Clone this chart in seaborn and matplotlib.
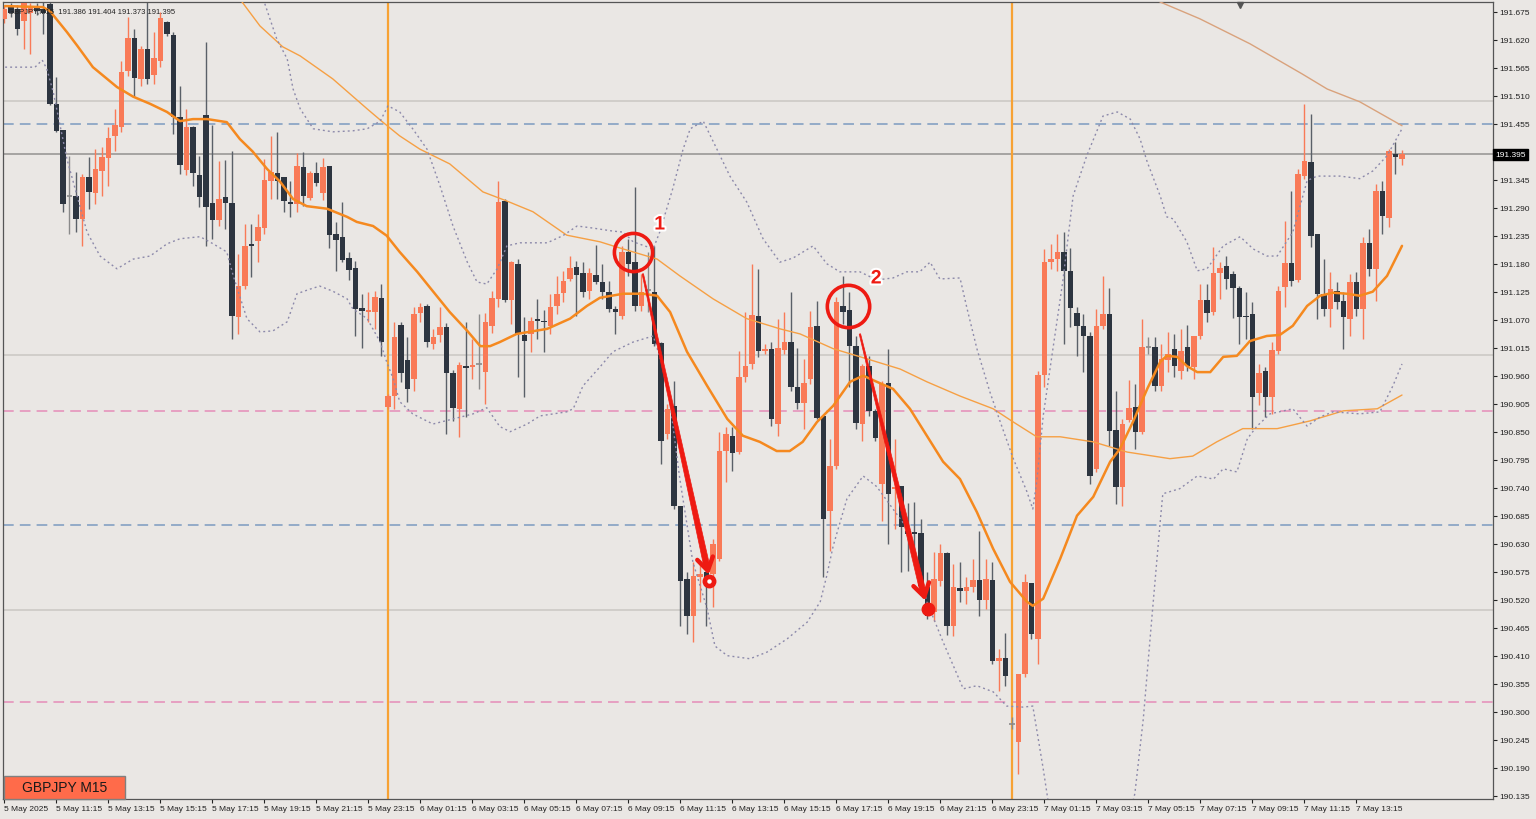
import numpy as np
import pandas as pd
import matplotlib
matplotlib.use("Agg")
import matplotlib.pyplot as plt
import seaborn as sns
from matplotlib.patches import Rectangle, Polygon
from matplotlib.lines import Line2D
from matplotlib.transforms import IdentityTransform, blended_transform_factory
import matplotlib.patheffects as pe

# ---------------- data (GBPJPY M15 candles, bar index 0 = 5 May 09:15) ----------------
opens = [191.661,191.684,191.680,191.657,191.672,191.684,191.680,191.690,191.494,191.443,
191.314,191.313,191.268,191.350,191.319,191.362,191.388,191.431,191.449,191.559,
191.623,191.543,191.602,191.551,191.578,191.655,191.629,191.468,191.364,191.449,
191.354,191.472,191.299,191.266,191.311,191.299,191.075,191.136,191.219,191.225,
191.250,191.343,191.358,191.350,191.301,191.297,191.370,191.309,191.358,191.319,
191.372,191.238,191.233,191.191,191.172,191.093,191.085,191.085,191.113,190.899,
190.920,191.060,190.991,190.954,191.083,191.097,191.022,191.040,191.056,190.965,
190.895,190.979,190.977,190.984,190.967,191.058,191.111,191.303,191.109,191.179,
191.040,191.042,191.072,191.068,191.058,191.097,191.123,191.150,191.174,191.162,
191.127,191.158,191.144,191.125,191.091,191.077,191.203,191.183,191.097,191.129,
191.125,191.024,190.846,190.901,190.704,190.561,190.488,190.565,190.575,190.571,
190.600,190.812,190.842,190.810,190.958,190.983,191.077,191.009,191.013,190.865,
191.011,191.026,190.938,190.907,190.954,191.058,190.881,190.694,190.783,191.097,
191.089,191.019,190.865,190.979,190.891,190.747,190.946,190.738,190.744,190.655,
190.653,190.651,190.545,190.496,190.557,190.612,190.469,190.543,190.537,190.545,
190.559,190.520,190.559,190.400,190.406,190.277,190.241,190.374,190.553,190.443,
190.961,191.183,191.189,191.203,191.166,191.083,191.058,191.038,190.777,191.058,
191.081,190.854,190.742,190.873,190.899,190.850,191.018,191.017,190.940,190.991,
191.013,190.969,191.017,190.977,191.038,191.109,191.085,191.162,191.176,191.160,
191.132,191.077,191.081,190.926,190.969,190.918,191.009,191.134,191.181,191.148,
191.352,191.380,191.238,191.121,191.091,191.126,191.107,191.072,191.144,191.091,
191.221,191.170,191.323,191.270,191.396,191.386]

highs = [191.688,191.692,191.688,191.694,191.692,191.692,191.696,191.694,191.547,191.443,
191.392,191.360,191.356,191.390,191.405,191.409,191.449,191.484,191.578,191.665,
191.641,191.608,191.698,191.635,191.674,191.657,191.635,191.529,191.484,191.451,
191.392,191.616,191.453,191.382,191.384,191.401,191.199,191.258,191.258,191.278,
191.386,191.431,191.439,191.350,191.343,191.398,191.399,191.362,191.380,191.388,
191.372,191.262,191.301,191.203,191.185,191.121,191.125,191.127,191.140,190.924,
191.066,191.066,191.036,191.095,191.103,191.101,191.052,191.095,191.064,190.971,
190.987,191.066,191.032,191.081,191.083,191.126,191.343,191.307,191.185,191.189,
191.075,191.075,191.111,191.089,191.121,191.156,191.166,191.195,191.185,191.183,
191.172,191.217,191.180,191.146,191.097,191.215,191.229,191.331,191.160,191.203,
191.215,191.026,190.905,190.950,190.704,190.575,190.594,190.594,190.580,190.639,
190.850,190.859,190.859,191.009,191.085,191.180,191.170,191.022,191.026,191.072,
191.085,191.125,191.015,190.993,191.087,191.107,190.881,190.836,191.115,191.156,
191.125,191.038,190.983,190.999,190.895,190.950,191.013,190.836,190.744,190.710,
190.712,190.679,190.575,190.614,190.630,190.614,190.590,190.594,190.565,190.600,
190.655,190.600,190.594,190.423,190.455,190.290,190.374,190.571,190.553,190.969,
191.209,191.219,191.238,191.242,191.211,191.095,191.081,191.046,191.091,191.156,
191.132,190.930,190.875,190.952,190.944,191.072,191.036,191.036,191.022,191.046,
191.042,191.052,191.060,191.038,191.140,191.140,191.213,191.183,191.195,191.166,
191.136,191.125,191.105,190.983,190.977,191.026,191.136,191.264,191.323,191.366,
191.494,191.474,191.238,191.189,191.164,191.144,191.125,191.160,191.164,191.233,
191.248,191.337,191.343,191.405,191.419,191.404]

lows = [191.653,191.665,191.629,191.602,191.592,191.669,191.631,191.492,191.439,191.282,
191.238,191.242,191.215,191.288,191.297,191.313,191.333,191.401,191.439,191.549,
191.508,191.529,191.533,191.533,191.566,191.627,191.435,191.356,191.354,191.333,
191.291,191.215,191.229,191.254,191.248,191.032,191.042,191.130,191.154,191.183,
191.238,191.307,191.307,191.282,191.272,191.282,191.293,191.305,191.333,191.305,
191.211,191.166,191.183,191.148,191.038,191.015,191.066,191.052,190.999,190.895,
190.895,190.948,190.909,190.930,191.066,191.017,191.013,191.026,190.846,190.871,
190.840,190.879,190.954,190.934,190.905,191.044,191.095,191.105,191.062,190.958,
190.918,191.007,191.032,191.007,191.042,191.081,191.105,191.146,191.077,191.115,
191.111,191.140,191.111,191.085,191.042,191.072,191.156,191.087,191.087,191.085,
191.019,190.787,190.836,190.698,190.469,190.453,190.437,190.516,190.469,190.506,
190.596,190.751,190.773,190.806,190.948,190.973,190.997,191.003,190.862,190.842,
191.003,190.930,190.895,190.856,190.944,190.875,190.565,190.616,190.777,191.062,
190.938,190.856,190.832,190.881,190.832,190.675,190.630,190.659,190.575,190.577,
190.594,190.545,190.482,190.478,190.547,190.451,190.449,190.516,190.512,190.535,
190.488,190.502,190.394,190.341,190.351,190.266,190.178,190.368,190.443,190.394,
190.938,191.170,191.166,191.022,191.056,190.999,190.967,190.747,190.771,191.052,
190.822,190.708,190.704,190.869,190.816,190.846,191.003,190.930,190.930,190.967,
190.958,190.954,190.969,190.954,191.032,191.066,191.079,191.111,191.130,191.073,
191.022,191.032,190.856,190.903,190.879,190.885,191.003,191.095,191.136,191.144,
191.347,191.213,191.072,191.077,191.056,191.091,191.013,191.038,191.077,191.032,
191.156,191.107,191.238,191.252,191.356,191.373]

closes = [191.680,191.672,191.641,191.692,191.684,191.676,191.672,191.494,191.441,191.297,
191.313,191.268,191.350,191.321,191.366,191.390,191.427,191.453,191.557,191.623,
191.545,191.602,191.543,191.584,191.663,191.631,191.468,191.374,191.449,191.358,
191.311,191.291,191.266,191.307,191.299,191.077,191.136,191.215,191.215,191.252,
191.345,191.360,191.343,191.303,191.297,191.372,191.313,191.358,191.339,191.370,
191.236,191.227,191.187,191.168,191.091,191.087,191.089,191.115,191.026,190.920,
191.036,190.965,190.934,191.081,191.095,191.026,191.036,191.056,190.965,190.897,
190.981,190.975,190.981,190.983,191.066,191.113,191.301,191.109,191.183,191.042,
191.028,191.068,191.068,191.066,191.095,191.121,191.146,191.172,191.158,191.125,
191.162,191.144,191.125,191.091,191.085,191.203,191.180,191.097,191.125,191.128,
191.022,190.832,190.895,190.704,190.557,190.488,190.567,190.571,190.561,190.630,
190.812,190.846,190.808,190.958,190.979,191.079,191.009,191.013,190.875,191.015,
191.026,190.938,190.907,190.946,191.056,190.877,190.679,190.783,191.105,191.085,
191.019,190.867,190.979,190.891,190.838,190.944,190.728,190.742,190.663,190.649,
190.649,190.547,190.488,190.561,190.612,190.469,190.545,190.537,190.545,190.559,
190.520,190.561,190.400,190.406,190.370,190.276,190.374,190.555,190.453,190.961,
191.183,191.189,191.203,191.166,191.093,191.058,191.038,190.763,191.058,191.081,
190.852,190.742,190.865,190.897,190.850,191.017,191.017,190.940,190.993,191.003,
190.979,191.009,190.979,191.038,191.109,191.083,191.162,191.172,191.150,191.132,
191.075,191.075,190.918,190.965,190.918,191.011,191.127,191.181,191.146,191.356,
191.382,191.235,191.121,191.091,191.130,191.105,191.075,191.144,191.091,191.221,
191.170,191.323,191.274,191.401,191.390,191.395]

# Bollinger middle (thick orange): bar position / price
bb_mid_x = [0.1, 5.9, 7.0, 9.6, 11.2, 13.6, 17.3, 19.8, 22.4, 25.0,
 27.0, 29.0, 31.2, 34.2, 36.2, 38.2, 40.4, 42.4, 44.4, 46.5,
 49.6, 52.7, 54.2, 56.7, 58.8, 60.8, 63.5, 65.9, 68.5, 71.2,
 73.2, 74.7, 76.2, 78.8, 83.5, 87.0, 89.6, 91.6, 95.2, 98.2,
 100.4, 102.4, 105.0, 108.1, 111.2, 113.6, 116.2, 118.8, 120.8, 122.8,
 125.0, 127.5, 130.1, 132.1, 134.2, 136.7, 139.3, 141.9, 144.4, 147.0,
 149.6, 152.1, 154.7, 157.3, 158.2, 159.8, 162.4, 165.0, 167.5, 170.1,
 171.6, 173.6, 175.8, 177.8, 178.8, 180.4, 181.9, 183.5, 185.5, 187.5,
 189.6, 191.6, 194.2, 196.2, 198.2, 200.4, 202.4, 204.4, 206.5, 208.5,
 210.5, 212.7, 215.0]
bb_mid = [191.686, 191.684, 191.676, 191.635, 191.608, 191.566, 191.527, 191.508, 191.494, 191.478,
 191.460, 191.464, 191.464, 191.458, 191.425, 191.400, 191.366, 191.341, 191.307, 191.293,
 191.288, 191.272, 191.262, 191.254, 191.235, 191.203, 191.164, 191.126, 191.085, 191.048,
 191.018, 191.018, 191.026, 191.042, 191.052, 191.072, 191.097, 191.113, 191.121, 191.121,
 191.117, 191.085, 191.007, 190.940, 190.875, 190.842, 190.830, 190.812, 190.812, 190.830,
 190.869, 190.901, 190.948, 190.960, 190.948, 190.934, 190.895, 190.842, 190.791, 190.757,
 190.692, 190.620, 190.555, 190.516, 190.508, 190.522, 190.600, 190.685, 190.722, 190.791,
 190.816, 190.869, 190.934, 190.987, 190.999, 190.997, 190.979, 190.967, 190.967, 190.997,
 190.999, 191.028, 191.038, 191.040, 191.058, 191.097, 191.117, 191.123, 191.121, 191.117,
 191.125, 191.156, 191.215]

bb_up_x = [0.0, 20.0, 36.0, 39.8, 41.9, 43.5, 44.4, 45.5, 47.5, 50.5,
 53.6, 55.8, 57.8, 59.0, 60.8, 62.8, 65.0, 67.0, 69.0, 71.2,
 72.7, 74.2, 75.8, 77.3, 79.3, 83.5, 85.9, 88.1, 90.5, 93.6,
 95.2, 96.7, 99.8, 100.8, 102.8, 104.4, 105.5, 107.5, 109.6, 111.6,
 114.2, 116.7, 119.3, 121.3, 124.4, 126.5, 128.5, 131.6, 134.2, 136.7,
 138.8, 140.8, 142.4, 143.9, 147.0, 148.1, 149.6, 151.6, 153.2, 155.2,
 157.3, 158.2, 158.8, 159.8, 161.3, 162.8, 164.4, 166.5, 169.0, 171.2,
 173.2, 174.7, 175.8, 177.8, 178.8, 179.8, 181.9, 183.5, 185.0, 187.5,
 190.1, 192.1, 194.2, 195.8, 198.2, 200.4, 201.9, 205.5, 208.5, 210.5,
 212.7, 215.0]
bb_up = [191.780, 191.770, 191.730, 191.700, 191.621, 191.582, 191.523, 191.484, 191.445, 191.439,
 191.441, 191.445, 191.460, 191.490, 191.478, 191.445, 191.405, 191.333, 191.254, 191.183,
 191.144, 191.140, 191.170, 191.215, 191.221, 191.221, 191.235, 191.254, 191.250, 191.244,
 191.242, 191.223, 191.209, 191.242, 191.327, 191.405, 191.445, 191.460, 191.405, 191.352,
 191.301, 191.229, 191.183, 191.191, 191.215, 191.180, 191.164, 191.164, 191.148, 191.152,
 191.164, 191.164, 191.183, 191.150, 191.152, 191.091, 191.013, 190.928, 190.869, 190.797,
 190.732, 190.698, 190.751, 190.881, 191.013, 191.144, 191.313, 191.392, 191.470, 191.478,
 191.464, 191.425, 191.380, 191.313, 191.272, 191.268, 191.223, 191.166, 191.170, 191.215,
 191.233, 191.209, 191.195, 191.195, 191.242, 191.343, 191.352, 191.352, 191.347, 191.362,
 191.392, 191.445]

bb_lo_x = [0.1, 4.7, 5.8, 6.5, 7.5, 9.6, 12.7, 14.7, 17.3, 19.8,
 22.4, 25.0, 27.0, 30.1, 32.1, 34.2, 35.2, 37.3, 39.3, 41.3,
 43.5, 45.0, 47.0, 48.5, 50.5, 52.7, 53.6, 55.8, 57.8, 58.8,
 59.8, 60.8, 62.8, 65.9, 69.0, 72.1, 74.2, 76.2, 77.8, 80.4,
 82.4, 86.5, 87.5, 89.0, 91.6, 93.6, 96.7, 99.8, 101.9, 103.9,
 105.9, 108.1, 109.3, 111.2, 114.7, 117.3, 120.4, 123.5, 125.5, 126.5,
 127.5, 129.6, 132.1, 134.2, 136.7, 139.3, 141.9, 144.4, 147.5, 149.6,
 152.1, 154.2, 156.7, 158.2, 159.8, 160.5, 163.0, 167.0, 171.0, 173.9,
 175.2, 176.5, 177.8, 178.2, 180.8, 183.5, 186.0, 187.5, 189.6, 191.2,
 192.7, 194.7, 198.2, 200.4, 202.4, 204.4, 208.5, 211.6, 213.6, 215.0]
bb_lo = [191.566, 191.566, 191.580, 191.563, 191.517, 191.386, 191.242, 191.195, 191.170, 191.189,
 191.195, 191.219, 191.229, 191.233, 191.219, 191.203, 191.156, 191.072, 191.046, 191.048,
 191.066, 191.121, 191.130, 191.136, 191.126, 191.111, 191.091, 191.072, 191.026, 190.987,
 190.954, 190.909, 190.885, 190.865, 190.875, 190.885, 190.897, 190.860, 190.850, 190.865,
 190.881, 190.889, 190.895, 190.940, 190.977, 191.007, 191.026, 191.038, 190.954, 190.757,
 190.594, 190.502, 190.429, 190.410, 190.404, 190.417, 190.443, 190.476, 190.516, 190.567,
 190.626, 190.718, 190.763, 190.742, 190.698, 190.653, 190.516, 190.437, 190.345, 190.351,
 190.339, 190.311, 190.309, 190.311, 190.188, 190.129, 190.030, 189.980, 189.990, 190.139,
 190.286, 190.482, 190.673, 190.728, 190.738, 190.763, 190.757, 190.777, 190.771, 190.836,
 190.861, 190.885, 190.895, 190.861, 190.879, 190.889, 190.885, 190.889, 190.940, 190.983]

ma_slow_x = [0.0, 18.0, 36.2, 39.3, 42.8, 45.5, 50.5, 55.8, 58.2, 60.8,
 63.9, 68.5, 73.6, 77.3, 81.3, 86.5, 91.6, 93.6, 100.4, 103.9,
 109.0, 114.2, 119.3, 122.4, 127.5, 132.7, 137.8, 141.9, 147.0, 152.1,
 155.2, 158.8, 162.4, 167.5, 172.7, 179.3, 182.8, 186.5, 190.5, 195.8,
 200.8, 206.0, 211.2, 215.0]
ma_slow = [191.950, 191.830, 191.700, 191.647, 191.606, 191.588, 191.543, 191.484, 191.458, 191.431,
 191.405, 191.376, 191.321, 191.303, 191.282, 191.236, 191.223, 191.215, 191.189, 191.156,
 191.111, 191.072, 191.052, 191.042, 191.013, 190.993, 190.973, 190.948, 190.920, 190.895,
 190.869, 190.840, 190.840, 190.830, 190.810, 190.797, 190.802, 190.830, 190.856, 190.856,
 190.871, 190.891, 190.895, 190.922]

ma_long_x = [170.0, 177.8, 183.9, 191.6, 199.6, 203.5, 208.5, 215.0]
ma_long = [191.760, 191.694, 191.661, 191.612, 191.553, 191.523, 191.498, 191.451]

blue_levels = [191.455, 190.667]
pink_levels = [190.891, 190.320]
round_levels = [191.500, 191.000, 190.500]
bid_price = 191.395
day_separators = [59, 155]

price_ticks = [190.135, 190.190, 190.245, 190.300, 190.355, 190.410, 190.465, 190.520,
               190.575, 190.630, 190.685, 190.740, 190.795, 190.850, 190.905, 190.960,
               191.015, 191.070, 191.125, 191.180, 191.235, 191.290, 191.345, 191.400,
               191.455, 191.510, 191.565, 191.620, 191.675]
time_tick_idx = [0, 8, 16, 24, 32, 40, 48, 56, 64, 72, 80, 88, 96, 104, 112, 120,
                 128, 136, 144, 152, 160, 168, 176, 184, 192, 200, 208]
time_labels = ["5 May 2025", "5 May 11:15", "5 May 13:15", "5 May 15:15", "5 May 17:15",
               "5 May 19:15", "5 May 21:15", "5 May 23:15", "6 May 01:15", "6 May 03:15",
               "6 May 05:15", "6 May 07:15", "6 May 09:15", "6 May 11:15", "6 May 13:15",
               "6 May 15:15", "6 May 17:15", "6 May 19:15", "6 May 21:15", "6 May 23:15",
               "7 May 01:15", "7 May 03:15", "7 May 05:15", "7 May 07:15", "7 May 09:15",
               "7 May 11:15", "7 May 13:15"]

# annotation anchors (bar position, price)
circle_pos = [(96.7, 191.203), (129.8, 191.097)]
circle_text = ["1", "2"]
circle_label_pos = [(100.8, 191.256), (134.1, 191.150)]
arrow_start = [(98.2, 191.160), (131.6, 191.042)]
arrow_end = [(108.2, 190.577), (141.5, 190.526)]
dot_pos = [(108.4, 190.557), (142.1, 190.502)]

# ---------------- style ----------------
sns.set_theme(style="white")
plt.rcParams['font.family'] = ['Liberation Sans', 'DejaVu Sans']

BG = '#EAE7E4'
BULL = '#F97A57'
BEAR = '#2D3540'
BEAR_WICK = '#5A6068'
RED = '#EE1A12'

fig = plt.figure(figsize=(15.36, 8.2), dpi=100, facecolor=BG)
ax = fig.add_axes([3 / 1536, 20 / 820, 1490 / 1536, 797 / 820])
ax.set_facecolor(BG)

# horizontal levels
for lv in round_levels:
    ax.axhline(lv, color='#CDC9C5', lw=1.2, zorder=1)
ax.axhline(bid_price, color='#9A9896', lw=1.2, zorder=1)
for lv in blue_levels:
    ax.axhline(lv, color='#7C9BC0', lw=1.1, ls=(0, (7, 4)), zorder=1)
for lv in pink_levels:
    ax.axhline(lv, color='#E68CB8', lw=1.1, ls=(0, (7, 4)), zorder=1)
for s in day_separators:
    ax.axvline(s, color='#F7A234', lw=1.6, zorder=1)

# candles
o = np.array(opens); h = np.array(highs); l = np.array(lows); c = np.array(closes)
idx = np.arange(len(o))
bull = c > o + 0.0011
bear = c < o - 0.0011
doji = ~(bull | bear)
W = 0.78
ax.vlines(idx[bull], l[bull], h[bull], color=BULL, lw=1.0, zorder=2)
ax.vlines(idx[bear], l[bear], h[bear], color=BEAR_WICK, lw=1.0, zorder=2)
ax.vlines(idx[doji], l[doji], h[doji], color='#8A8A8A', lw=1.0, zorder=2)
ax.bar(idx[bull], (c - o)[bull], bottom=o[bull], width=W, color=BULL, linewidth=0, zorder=3)
ax.bar(idx[bear], (o - c)[bear], bottom=c[bear], width=W, color=BEAR, linewidth=0, zorder=3)
ax.hlines(c[doji], idx[doji] - W / 2, idx[doji] + W / 2, color='#8A8A8A', lw=1.2, zorder=3)

# indicators
sns.lineplot(x=ma_long_x, y=ma_long, ax=ax, color='#D9A27C', linewidth=1.0, zorder=4)
sns.lineplot(x=ma_slow_x, y=ma_slow, ax=ax, color='#F6A044', linewidth=1.0, zorder=4)
sns.lineplot(x=bb_up_x, y=bb_up, ax=ax, color='#8C89AA', linewidth=1.0,
             linestyle=(0, (1.4, 2.2)), zorder=4)
sns.lineplot(x=bb_lo_x, y=bb_lo, ax=ax, color='#8C89AA', linewidth=1.0,
             linestyle=(0, (1.4, 2.2)), zorder=4)
sns.lineplot(x=bb_mid_x, y=bb_mid, ax=ax, color='#F5891F', linewidth=1.8, zorder=5)

ax.set_xlim(-0.23, 229.0)
ax.set_ylim(190.1285, 191.694)

# axes / ticks (the 191.400 label sits under the bid-price box, as in the terminal)
ax.yaxis.tick_right()
ax.set_yticks(price_ticks)
ax.set_yticklabels(["" if abs(v - bid_price) < 0.02 else f"{v:.3f}" for v in price_ticks])
ax.tick_params(axis='y', which='both', direction='out', length=3, width=0.8, pad=1.5,
               labelsize=6, colors='#222222', right=True, left=False)
ax.set_xticks(time_tick_idx)
ax.set_xticklabels(time_labels, ha='left')
ax.tick_params(axis='x', direction='out', length=3, width=0.8, pad=1.5,
               labelsize=6, colors='#222222', bottom=True)
ax.set_xlabel('')
ax.set_ylabel('')
for sp in ax.spines.values():
    sp.set_color('#555555')
    sp.set_linewidth(0.9)
ax.grid(False)

# bid label
trans = blended_transform_factory(ax.transAxes, ax.transData)
ax.text(1.0016, bid_price, f"{bid_price:.3f}", transform=trans, fontsize=6, color='white',
        va='center', ha='left', zorder=20, clip_on=False,
        bbox=dict(boxstyle='square,pad=0.25', fc='black', ec='black'))

# header
ax.text(0.0035, 0.994, "GBPJPY,M15  191.386 191.404 191.373 191.395", transform=ax.transAxes,
        fontsize=5.5, va='top', ha='left', color='#222222', zorder=20)

# symbol box
ax.add_patch(Rectangle((0.0008, 0.0), 0.081, 0.029, transform=ax.transAxes, fc='#FF6B4A',
                       ec='#808080', lw=1, zorder=20, clip_on=False))
ax.text(0.0008 + 0.0405, 0.0145, 'GBPJPY M15', transform=ax.transAxes, ha='center',
        va='center', fontsize=10, color='#1A1A1A', zorder=21)

# chart-shift marker
ax.plot([0.830], [0.996], marker='v', ms=5, color='#555555', transform=ax.transAxes,
        clip_on=False, zorder=20)

# circles, labels, dots
for (cx, cy), ms in zip(circle_pos, [27.5, 30.5]):
    ax.plot([cx], [cy], marker='o', ms=ms, mfc='none', mec=RED, mew=2.6, zorder=15)
for (tx, ty), t in zip(circle_label_pos, circle_text):
    ax.text(tx, ty, t, color=RED, fontsize=14, fontweight='bold', ha='center', va='center',
            zorder=16, path_effects=[pe.withStroke(linewidth=3, foreground='white')])
for k, (dx, dy) in enumerate(dot_pos):
    ax.plot([dx], [dy], marker='o', ms=9, color=RED, mec=RED, zorder=16)
    if k == 0:
        ax.plot([dx], [dy], marker='o', ms=2.2, color='white', mec='white', zorder=17)

# tapered arrows (drawn in pixel space after limits are fixed)
def tapered_arrow(p0, p1, w0=1.4, w1=6.0, head=15.0, head_w=4.5):
    x0, y0 = ax.transData.transform(p0)
    x1, y1 = ax.transData.transform(p1)
    dx, dy = x1 - x0, y1 - y0
    L = np.hypot(dx, dy)
    ux, uy = dx / L, dy / L
    nx, ny = -uy, ux
    xe, ye = x1 - ux * 2.0, y1 - uy * 2.0
    poly = [(x0 + nx * w0 / 2, y0 + ny * w0 / 2), (xe + nx * w1 / 2, ye + ny * w1 / 2),
            (xe - nx * w1 / 2, ye - ny * w1 / 2), (x0 - nx * w0 / 2, y0 - ny * w0 / 2)]
    ax.add_artist(Polygon(poly, closed=True, transform=IdentityTransform(), fc=RED, ec=RED,
                          lw=0.5, zorder=18))
    ang = np.arctan2(uy, ux)
    for sgn in (1, -1):
        a = ang + np.pi + sgn * np.radians(32)
        hx, hy = x1 + head * np.cos(a), y1 + head * np.sin(a)
        ax.add_artist(Line2D([x1, hx], [y1, hy], transform=IdentityTransform(), color=RED,
                             lw=head_w * 0.72, solid_capstyle='round', zorder=18))

for p0, p1 in zip(arrow_start, arrow_end):
    tapered_arrow(p0, p1)

fig.savefig("out.png", dpi=100, facecolor=BG)
